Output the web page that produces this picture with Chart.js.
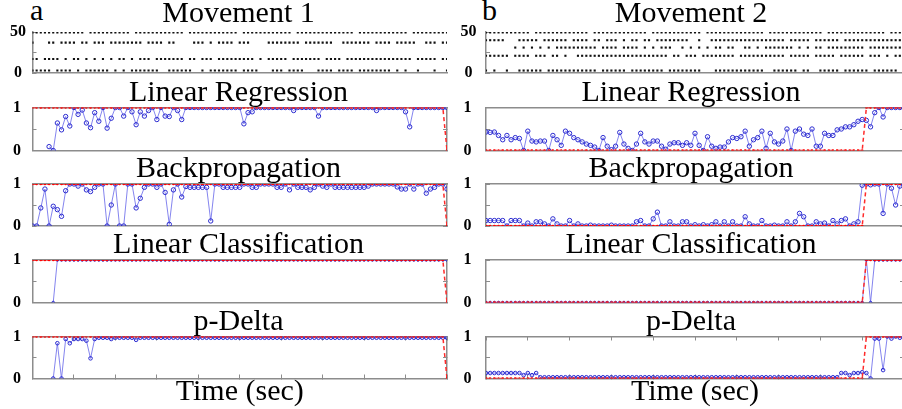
<!DOCTYPE html>
<html>
<head>
<meta charset="utf-8">
<script src="https://cdn.jsdelivr.net/npm/chart.js@4.4.0/dist/chart.umd.min.js"></script>
<style>
html, body { margin: 0; padding: 0; background: #fff; }
body { width: 902px; height: 409px; overflow: hidden; position: relative; }
canvas { position: absolute; }
.tag { position: absolute; font-family: "Liberation Serif", serif; font-size: 30px; line-height: 30px; color: #000; }
</style>
</head>
<body>
<div class="tag" style="left:30px;top:-5px">a</div>
<div class="tag" style="left:482px;top:-5px">b</div>
<script>
// sample positions along the time axis (no tick labels in the figure)
const timeTicks = [0, 10, 20, 30, 40, 50, 60, 70, 80, 90, 100];
const binaryTicks = [0, 0.5, 1];
const binaryTickLabels = ['0', '', '1'];
const moveTicks = [0, 25, 50];
const moveTickLabels = ['0', '', '50'];

// raster rows (neuron channel level) and spike pattern per time bin
const move1Levels = [49.5, 37, 17, 3];
const move1Rows = [
  '1111111111 1110111111 1111011111 1111111011 1111111111 0111111111 1110111111 1111111101 1111111111 1011111111 1',
  '1000110111 1011011101 1111111011 1101100001 1101011110 1110000111 1111101111 1110011111 1101111011 1110011101 1',
  '1101111010 1101010101 0110101110 1111111011 0111011111 1111010111 1101111111 0111101111 1111111111 1101111101 1',
  '1111101111 0101111110 1010111111 1001111110 0101111111 0111100011 1011110001 1110111101 1111111010 1001000100 1'
];
const move2Levels = [49.5, 40, 31, 21, 3];
const move2Rows = [
  '1111111111 1011111111 1111101111 1111111110 1111111111 1101111111 1111111011 1111111111 1011111111 1111110111 1',
  '1111100011 1110111111 0111101101 1101011011 0111111110 0100111111 1111111111 1101111101 1111101111 1111111111 1',
  '0000000101 0101010111 1111111011 1101111010 1011100101 0101011011 0011010111 1111010101 1011111111 1011111111 1',
  '1111110111 1011101101 0011111111 1111111111 1111011011 1011111111 0111111111 1101111101 1111011111 1011101011 1',
  '1010010011 1111011111 1111111011 1111011111 1110111111 1100011111 1111111001 1111101100 1111101111 1101111110 1'
];

// true class (red dashed)
const targetA = [
  1,1,1,1,1,1,1,1,1,1, 1,1,1,1,1,1,1,1,1,1, 1,1,1,1,1,1,1,1,1,1,
  1,1,1,1,1,1,1,1,1,1, 1,1,1,1,1,1,1,1,1,1, 1,1,1,1,1,1,1,1,1,1,
  1,1,1,1,1,1,1,1,1,1, 1,1,1,1,1,1,1,1,1,1, 1,1,1,1,1,1,1,1,1,1,
  1,1,1,1,1,1,1,1,1,1, 0
];
const targetB = [
  0,0,0,0,0,0,0,0,0,0, 0,0,0,0,0,0,0,0,0,0, 0,0,0,0,0,0,0,0,0,0,
  0,0,0,0,0,0,0,0,0,0, 0,0,0,0,0,0,0,0,0,0, 0,0,0,0,0,0,0,0,0,0,
  0,0,0,0,0,0,0,0,0,0, 0,0,0,0,0,0,0,0,0,0, 0,0,0,0,0,0,0,0,0,0,
  0,1,1,1,1,1,1,1,1,1, 1
];

// decoder outputs (blue)
const linRegA = [
  null,null,null,null,0.09,0,0.64,0.48,0.79,0.57,
  1,0.84,0.94,0.64,0.53,0.88,0.68,1,0.52,0.75,
  1,1,0.8,1,0.9,0.6,0.9,0.8,0.93,1,
  0.72,1,0.8,0.79,1,0.93,0.72,1,1,1,
  1,1,1,1,1,1,1,1,1,1,
  1,0.62,0.88,0.9,1,1,1,1,1,1,
  1,1,1,0.93,1,1,1,1,1,0.8,
  1,1,1,1,1,1,1,1,1,1,
  1,1,1,0.93,1,1,1,1,1,1,
  0.9,0.55,1,1,1,1,1,1,1,1,1
];
const linRegB = [
  0.43,0.42,0.43,0.35,0.25,0.35,0.25,0.3,0.28,0,
  0.45,0.22,0.2,0.22,0.22,0,0.35,0.25,0.12,0.45,
  0.4,0.3,0.25,0.2,0.15,0.12,0.08,0,0.3,0.1,
  0.02,0.1,0.42,0.15,0.05,0,0.15,0.4,0.2,0.15,
  0.22,0.22,0.1,0.03,0.15,0.18,0.18,0.12,0.18,0.12,
  0.4,0.12,0,0.32,0.1,0.05,0.08,0.08,0.2,0.3,
  0.28,0.32,0.45,0.1,0.25,0.3,0.45,0.05,0.4,0.2,
  0.15,0.22,0.5,0,0.45,0.5,0.38,0.35,0.5,0.1,
  0.1,0.4,0.35,0.35,0.48,0.5,0.55,0.55,0.6,0.68,
  0.72,0.7,0.55,0.88,1,0.78,1,1,1,1,1
];
const backPropA = [
  0,0,0.43,0.88,0,0.47,0.39,0.23,0.84,1,
  1,0.95,1,0.86,0.82,0.92,1,1,0,0.5,
  1,0,0,1,1,0.43,0.66,0.92,1,1,
  0.92,1,0.8,0.04,0.86,1,0.69,0.94,0.92,0.92,
  0.92,0.92,0.92,0.12,1,1,0.92,0.92,0.92,0.92,
  0.92,1,1,0.92,0.92,1,1,1,1,0.92,
  0.92,1,0.86,1,0.92,0.92,0.92,0.86,0.92,1,
  0.95,0.92,1,0.92,0.92,0.92,0.92,0.92,0.92,0.92,
  0.92,0.95,1,1,1,1,1,1,0.93,0.88,
  0.88,1,0.88,1,1,0.78,0.88,0.92,1,1,0.88
];
const backPropB = [
  0.13,0.13,0.13,0.13,0.13,0,0.13,0.13,0.13,0,
  0.07,0,0.1,0.1,0.05,0,0.17,0.05,0,0,
  0.13,0,0.05,0,0,0.02,0,0,0,0,
  0.02,0,0,0,0,0,0.1,0.13,0,0,
  0.17,0.33,0,0,0.1,0,0,0.1,0.1,0,
  0.03,0,0.03,0,0.03,0.1,0,0.1,0,0.1,
  0,0,0.22,0.05,0,0,0.13,0,0,0.02,
  0,0,0.1,0,0.1,0.3,0.22,0,0,0.1,
  0.05,0.07,0,0.13,0.05,0.13,0.17,0,0.05,0.1,
  0.97,1,0.98,1,1,0.3,1,0.9,0.5,0.95,1
];
const linClassA = [
  null,null,null,null,null,0,1,1,1,1,
  1,1,1,1,1,1,1,1,1,1, 1,1,1,1,1,1,1,1,1,1, 1,1,1,1,1,1,1,1,1,1,
  1,1,1,1,1,1,1,1,1,1, 1,1,1,1,1,1,1,1,1,1, 1,1,1,1,1,1,1,1,1,1,
  1,1,1,1,1,1,1,1,1,1, 1,1,1,1,1,1,1,1,1,1,
  1,1,1,1,1,1,1,1,1,1,1
];
const linClassB = [
  0,0,0,0,0,0,0,0,0,0, 0,0,0,0,0,0,0,0,0,0, 0,0,0,0,0,0,0,0,0,0,
  0,0,0,0,0,0,0,0,0,0, 0,0,0,0,0,0,0,0,0,0, 0,0,0,0,0,0,0,0,0,0,
  0,0,0,0,0,0,0,0,0,0, 0,0,0,0,0,0,0,0,0,0, 0,0,0,0,0,0,0,0,0,0,
  0,1,0,1,1,1,1,1,1,1,1
];
const pDeltaA = [
  null,null,null,null,null,0,0.84,0,0.94,0.84,
  0.94,0.94,0.94,0.9,0.48,0.94,0.97,0.97,0.97,0.94,
  0.97,0.97,0.97,0.97,0.97,0.92,0.97,0.97,0.97,0.97,
  0.97,0.97,0.97,0.97,0.97,0.97,0.97,0.97,0.97,0.97,
  0.97,0.97,0.97,0.97,0.97,0.97,0.97,0.97,0.97,0.97,
  0.97,0.97,0.97,0.97,0.97,0.97,0.97,0.97,0.97,0.97,
  0.97,0.97,0.97,0.97,0.97,0.97,0.97,0.97,0.97,0.97,
  0.97,0.97,0.97,0.97,0.97,0.97,0.97,0.97,0.97,0.97,
  0.97,0.97,0.97,0.97,0.97,0.97,0.97,0.97,0.97,0.97,
  0.97,0.97,0.97,0.97,0.97,0.97,0.97,0.97,0.97,0.97,0.97
];
const pDeltaB = [
  0.13,0.13,0.13,0.13,0.13,0.13,0.13,0.13,0.13,0.08,
  0.13,0.08,0.13,0.03,0.03,0.03,0.03,0.03,0.03,0.03,
  0.03,0.03,0.03,0.03,0.03,0.03,0.03,0.03,0.03,0.03,
  0.03,0.03,0.03,0.03,0.03,0.03,0.03,0.03,0.03,0.03,
  0.03,0.03,0.03,0.03,0.03,0.03,0.03,0.03,0.03,0.03,
  0.03,0.03,0.03,0.03,0.03,0.03,0.03,0.03,0.03,0.03,
  0.03,0.03,0.03,0.03,0.03,0.03,0.03,0.03,0.03,0.03,
  0.03,0.03,0.03,0.03,0.03,0.03,0.03,0.03,0.03,0.03,
  0.03,0.03,0.03,0.03,0.03,0.13,0.13,0.08,0.13,0.13,
  0.15,0.13,0,0.95,0.95,0.2,1,0.95,1,0.97,1
];

Chart.defaults.font.family = '"Liberation Serif", "Times New Roman", serif';
Chart.defaults.color = '#000';
Chart.defaults.animation = false;

const GRAY = '#8c8c8c';
// plot box edges and title centre per column (page px)
const cols = {
  a: { left: 0, plotLeft: 32.5, plotRight: 447, titleX: 238.5, tickPadBin: 15.5, tickPadMove: 10.5 },
  b: { left: 451, plotLeft: 486, plotRight: 904, titleX: 691, tickPadBin: 18.5, tickPadMove: 13.5 }
};
const rows = {
  move: { tc: 14, top: 32, bottom: 73 },
  lr: { tc: 93, top: 107.5, bottom: 150.5 },
  bp: { tc: 169, top: 184, bottom: 226 },
  lc: { tc: 245, top: 260, bottom: 302.5 },
  pd: { tc: 322, top: 336.5, bottom: 378.5 }
};

function toXY(arr) {
  return arr.map((v, i) => ({ x: i, y: v }));
}

function rasterSet(levels, patterns) {
  let pts = [];
  patterns.forEach((p, r) => {
    p.replace(/ /g, '').split('').forEach((ch, i) => {
      if (ch === '1') pts.push({ x: i, y: levels[r] });
    });
  });
  return [{
    data: pts, showLine: false, pointStyle: 'rect', pointRadius: 1.5,
    pointBackgroundColor: '#111', pointBorderWidth: 0
  }];
}

function decoderSets(target, pred, markSize) {
  return [{
    data: toXY(target), borderColor: '#ff2a2a', borderWidth: 1.5, borderDash: [4, 3],
    pointRadius: 1.3, pointBackgroundColor: '#ff0000', pointBorderWidth: 0
  }, {
    data: toXY(pred), borderColor: 'rgba(110,110,235,0.85)', borderWidth: 1,
    pointRadius: markSize, pointBorderColor: '#2b2bd0', pointBorderWidth: 1,
    pointBackgroundColor: 'rgba(255,255,255,0)'
  }];
}

function makeChart(colKey, rowKey, title, datasets) {
  const c = cols[colKey], r = rows[rowKey];
  const isMove = rowKey === 'move';
  const last = rowKey === 'pd';
  const ct = r.tc - 17;
  const h = last ? 409 - ct : Math.ceil(r.bottom + 30 - ct);
  const padB = last ? 0 : h - (r.bottom - ct);
  const w = 2 * (c.titleX - c.left);          // title is centred on the canvas width
  const yW = c.plotLeft - c.left;
  const y2W = w - (c.plotRight - c.left);
  const cv = document.createElement('canvas');
  cv.width = Math.round(w);
  cv.height = h;
  cv.style.left = c.left + 'px';
  cv.style.top = ct + 'px';
  document.body.appendChild(cv);

  const yTicks = isMove ? moveTicks : binaryTicks;
  const yLabels = isMove ? moveTickLabels : binaryTickLabels;
  const setTicks = list => s => { s.ticks = list.map(v => ({ value: v })); };

  new Chart(cv, {
    type: 'line',
    data: { datasets },
    options: {
      responsive: false,
      devicePixelRatio: 1,
      animation: false,
      layout: { padding: { left: 0, right: 0, top: 0, bottom: padB } },
      plugins: {
        legend: { display: false },
        tooltip: { enabled: false },
        title: {
          display: true, text: title, color: '#000',
          font: { size: 30, weight: 'normal', lineHeight: 1 },
          padding: { top: 2, bottom: r.top - r.tc - 15 }
        }
      },
      scales: {
        x: {
          type: 'linear', position: 'bottom', min: 0, max: 100,
          afterBuildTicks: setTicks(timeTicks),
          ticks: { display: false },
          grid: { display: last, drawOnChartArea: false, drawTicks: true, tickLength: -4, tickColor: GRAY, tickWidth: 1 },
          border: { display: true, color: GRAY, width: 1.5 },
          title: {
            display: last, text: 'Time (sec)', color: '#000',
            font: { size: 30, lineHeight: 1 }, padding: { top: 0, bottom: 2 }
          },
          afterFit: s => { s.height = last ? 409 - r.bottom : 0; }
        },
        x2: {
          type: 'linear', position: 'top', min: 0, max: 100, display: !isMove,
          afterBuildTicks: setTicks(timeTicks),
          ticks: { display: false },
          grid: { display: last, drawOnChartArea: false, drawTicks: true, tickLength: -4, tickColor: GRAY, tickWidth: 1 },
          border: { display: true, color: GRAY, width: 1.5 },
          afterFit: s => { s.height = 0; }
        },
        y: {
          type: 'linear', position: 'left',
          min: yTicks[0], max: yTicks[yTicks.length - 1],
          afterBuildTicks: setTicks(yTicks),
          ticks: {
            callback: (v, i) => yLabels[i],
            autoSkip: false,
            padding: isMove ? c.tickPadMove : c.tickPadBin,
            crossAlign: 'center', color: '#000',
            font: { size: 16, weight: 'bold', lineHeight: 1 }
          },
          grid: { display: true, drawOnChartArea: false, drawTicks: true, tickLength: -4, tickColor: GRAY, tickWidth: 1 },
          border: { display: true, color: GRAY, width: 1.5 },
          afterFit: s => { s.width = yW; }
        },
        y2: {
          type: 'linear', position: 'right',
          min: yTicks[0], max: yTicks[yTicks.length - 1],
          afterBuildTicks: setTicks(yTicks),
          ticks: { display: false },
          grid: { display: !isMove, drawOnChartArea: false, drawTicks: true, tickLength: -4, tickColor: GRAY, tickWidth: 1 },
          border: { display: !isMove, color: GRAY, width: 1.5 },
          afterFit: s => { s.width = y2W; }
        }
      }
    }
  });
}

makeChart('a', 'move', 'Movement 1', rasterSet(move1Levels, move1Rows));
makeChart('b', 'move', 'Movement 2', rasterSet(move2Levels, move2Rows));
makeChart('a', 'lr', 'Linear Regression', decoderSets(targetA, linRegA, 2.2));
makeChart('b', 'lr', 'Linear Regression', decoderSets(targetB, linRegB, 2.2));
makeChart('a', 'bp', 'Backpropagation', decoderSets(targetA, backPropA, 2.2));
makeChart('b', 'bp', 'Backpropagation', decoderSets(targetB, backPropB, 2.2));
makeChart('a', 'lc', 'Linear Classification', decoderSets(targetA, linClassA, 1.3));
makeChart('b', 'lc', 'Linear Classification', decoderSets(targetB, linClassB, 1.3));
makeChart('a', 'pd', 'p-Delta', decoderSets(targetA, pDeltaA, 1.8));
makeChart('b', 'pd', 'p-Delta', decoderSets(targetB, pDeltaB, 1.8));
</script>
</body>
</html>
